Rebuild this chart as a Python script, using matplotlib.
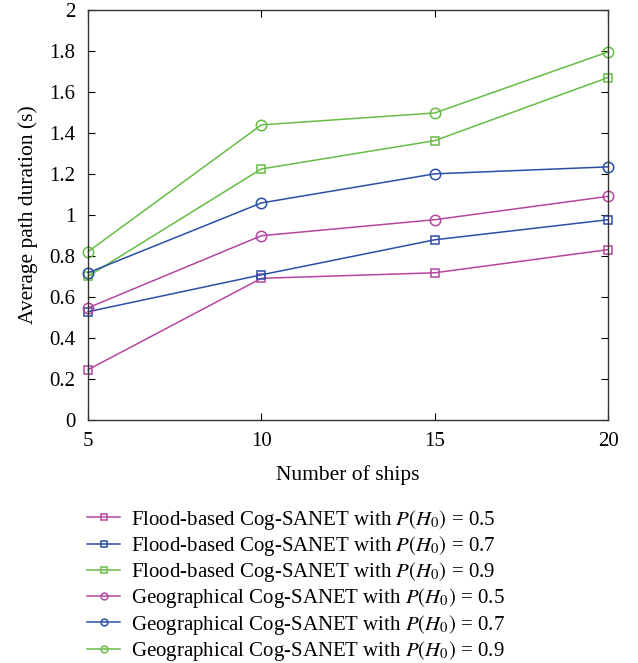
import matplotlib
matplotlib.use("Agg")
import matplotlib.pyplot as plt

plt.rcParams['font.family'] = ['Liberation Serif', 'DejaVu Serif']
plt.rcParams['mathtext.fontset'] = 'stix'

ships = [5, 10, 15, 20]
flood_05 = [0.244, 0.69, 0.717, 0.83]
flood_07 = [0.527, 0.707, 0.878, 0.976]
flood_09 = [0.70, 1.224, 1.362, 1.67]
geo_05 = [0.546, 0.898, 0.976, 1.09]
geo_07 = [0.717, 1.058, 1.20, 1.234]
geo_09 = [0.82, 1.439, 1.497, 1.795]

magenta = '#b5469f'
blue = '#2b4ea6'
green = '#66bd45'

series = [
    (flood_05, magenta, 's', r'Flood-based Cog-SANET with $P(H_0)$ = 0.5'),
    (flood_07, blue, 's', r'Flood-based Cog-SANET with $P(H_0)$ = 0.7'),
    (flood_09, green, 's', r'Flood-based Cog-SANET with $P(H_0)$ = 0.9'),
    (geo_05, magenta, 'o', r'Geographical Cog-SANET with $P(H_0)$ = 0.5'),
    (geo_07, blue, 'o', r'Geographical Cog-SANET with $P(H_0)$ = 0.7'),
    (geo_09, green, 'o', r'Geographical Cog-SANET with $P(H_0)$ = 0.9'),
]

fig = plt.figure(figsize=(6.38, 6.63), dpi=100)
ax = fig.add_axes([0.138, 0.367, 0.815, 0.618])

for vals, c, m, lab in series:
    ms = 6 if m == 's' else 7.5
    ax.plot(ships, vals, color=c, marker=m, markersize=ms, markerfacecolor='none',
            markeredgewidth=1.1, linewidth=1.1, label=lab, clip_on=False)

ax.set_xlim(5, 20)
ax.set_ylim(0, 2)
ax.set_xticks([5, 10, 15, 20])
ax.set_yticks([0, 0.2, 0.4, 0.6, 0.8, 1, 1.2, 1.4, 1.6, 1.8, 2])
ax.set_yticklabels(['0', '0.2', '0.4', '0.6', '0.8', '1', '1.2', '1.4', '1.6', '1.8', '2'])
ax.tick_params(direction='in', top=True, right=True, labelsize=15, length=5, pad=9)
for s in ax.spines.values():
    s.set_linewidth(1.0)
    s.set_color('#333333')

ax.set_xlabel('Number of ships', fontsize=15.5, labelpad=10)
ax.set_ylabel('Average path duration (s)', fontsize=15.5, labelpad=8)

fig.legend(loc='upper left', bbox_to_anchor=(0.124, 0.247), frameon=False,
           fontsize=15, markerscale=0.65, handlelength=1.55, labelspacing=0.11,
           handletextpad=0.55, borderaxespad=0)

fig.savefig('out.png', dpi=100)
